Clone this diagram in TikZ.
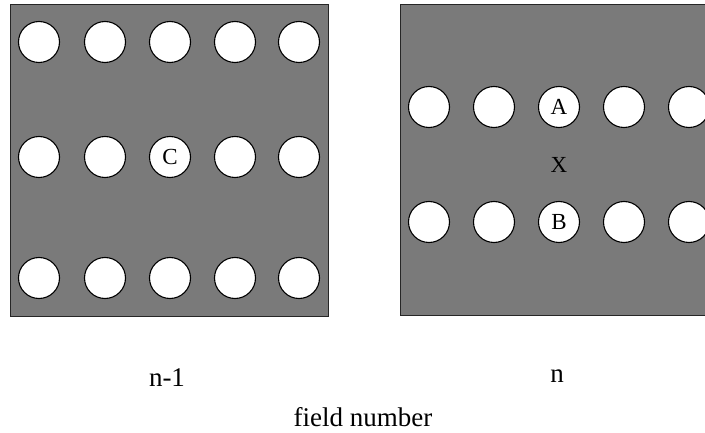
\documentclass[tikz,border=0pt]{standalone}
\usepackage{fontspec}
\setmainfont{Liberation Serif}
\usetikzlibrary{positioning}
\definecolor{fieldbg}{RGB}{122, 122, 122}

\begin{document}
\begin{tikzpicture}[
  x=1pt, y=-1pt,
  field/.style={draw=black!85, line width=1pt, fill=fieldbg},
  hole/.style={circle, draw=black, line width=1.1pt, fill=white, minimum size=41pt, inner sep=0pt},
  holelabel/.style={font=\fontsize{23}{23}\selectfont},
  caption/.style={font=\fontsize{27}{27}\selectfont}
]
  \clip (0,0) rectangle (705,433);

  % Field n-1
  \draw[field] (10,5) rectangle (328,316);
  \foreach \r/\y in {1/42, 2/157, 3/278} {
    \foreach \c/\x in {1/39, 2/105, 3/170, 4/235, 5/299} {
      \node[hole] (L\r\c) at (\x,\y) {};
    }
  }
  \node[holelabel] (C) at (L23) {C};

  % Field n
  \draw[field] (400,5) rectangle (712,315);
  \foreach \r/\y in {1/107, 2/222} {
    \foreach \c/\x in {1/429, 2/494, 3/559, 4/624, 5/689} {
      \node[hole] (R\r\c) at (\x,\y) {};
    }
  }
  \node[holelabel] (A) at (R13) {A};
  \node[holelabel] (B) at (R23) {B};
  \node[holelabel] (X) at (559,165) {X};

  % Captions
  \node[caption] (prev) at (167,378) {n-1};
  \node[caption] (curr) at (557,376) {n};
  \node[caption] (axis) at (363,417) {field number};
\end{tikzpicture}
\end{document}
